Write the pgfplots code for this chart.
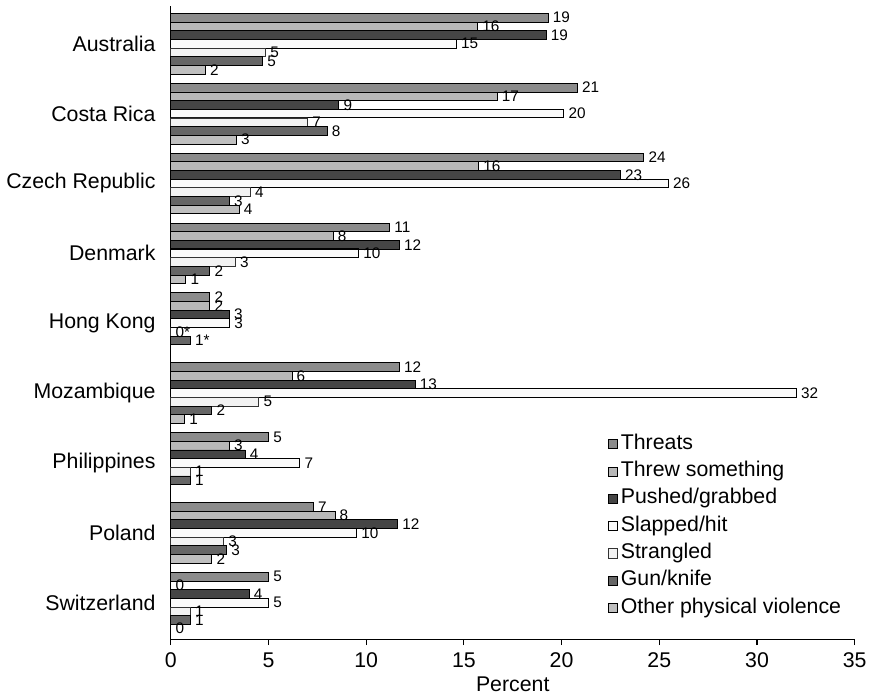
\documentclass[border=0pt]{standalone}
\usepackage{pgfplots}
\pgfplotsset{compat=1.18}
\usepackage{fontspec}
\setmainfont{Liberation Sans}
\definecolor{cA}{gray}{0.55}
\definecolor{cB}{gray}{0.72}
\definecolor{cC}{gray}{0.27}
\definecolor{cD}{gray}{0.98}
\definecolor{cE}{gray}{0.95}
\definecolor{cF}{gray}{0.40}
\definecolor{cG}{gray}{0.75}
\pgfplotsset{sqlegend/.style={legend image code/.code={\draw[##1,line width=0.6pt] (0pt,-3.4pt) rectangle (6.75pt,3.4pt);}}}
\begin{document}
\begin{tikzpicture}
\begin{axis}[name=ax, scale only axis, width=513.75pt, height=475.5pt,
  xbar, bar width=0.124, xmin=0, xmax=35, ymin=-0.52, ymax=8.54,
  axis x line*=bottom, axis y line*=left, axis line style={line width=0.8pt},
  xtick={0,5,...,35}, xtick pos=bottom, tick align=outside, major tick length=4.5pt,
  tick style={black, line width=0.8pt},
  ytick={0,...,8},
  yticklabels={Switzerland,Poland,Philippines,Mozambique,Hong Kong,Denmark,Czech Republic,Costa Rica,Australia},
  ytick style={draw=none},
  tick label style={font=\fontsize{16}{19}\selectfont},
  yticklabel style={inner sep=0pt, xshift=-6.75pt},
  xticklabel style={yshift=-2.5pt},
  /pgf/number format/assume math mode=true,
  xlabel={Percent}, xlabel style={font=\fontsize{16}{19}\selectfont, yshift=0.5pt},
  point meta=explicit symbolic, nodes near coords,
  nodes near coords style={font=\fontsize{11.5}{13}\selectfont, anchor=west, text=black},
  clip=false,
  legend style={at={(0.6395,0.3297)}, anchor=north west, draw=none, fill=none,
    font=\fontsize{16}{19}\selectfont, cells={anchor=west}, inner sep=0pt,
    nodes={inner sep=2pt, text height=12pt, text depth=4.5pt}},
  legend cell align=left,
]
\addplot[fill=cA, draw=black, line width=0.6pt, bar shift=0.372, sqlegend] coordinates
  {(19.3,8) [19] (20.8,7) [21] (24.2,6) [24] (11.2,5) [11] (2.0,4) [2] (11.7,3) [12] (5.0,2) [5] (7.3,1) [7] (5.0,0) [5]};
\addlegendentry{Threats}
\addplot[fill=cB, draw=black, line width=0.6pt, bar shift=0.248, sqlegend] coordinates
  {(15.7,8) [16] (16.7,7) [17] (15.75,6) [16] (8.3,5) [8] (2.0,4) [2] (6.2,3) [6] (3.0,2) [3] (8.4,1) [8] (0,0) [0]};
\addlegendentry{Threw something}
\addplot[fill=cC, draw=black, line width=0.6pt, bar shift=0.124, sqlegend] coordinates
  {(19.2,8) [19] (8.6,7) [9] (23.0,6) [23] (11.7,5) [12] (3.0,4) [3] (12.5,3) [13] (3.8,2) [4] (11.6,1) [12] (4.0,0) [4]};
\addlegendentry{Pushed/grabbed}
\addplot[fill=cD, draw=black, line width=0.8pt, bar shift=0, sqlegend] coordinates
  {(14.6,8) [15] (20.1,7) [20] (25.45,6) [26] (9.6,5) [10] (3.0,4) [3] (32.0,3) [32] (6.6,2) [7] (9.5,1) [10] (5.0,0) [5]};
\addlegendentry{Slapped/hit}
\addplot[fill=cE, draw=black!80, line width=0.6pt, bar shift=-0.124, sqlegend] coordinates
  {(4.85,8) [5] (7.0,7) [7] (4.07,6) [4] (3.3,5) [3] (0,4) [0*] (4.5,3) [5] (1.0,2) [1] (2.7,1) [3] (1.0,0) [1]};
\addlegendentry{Strangled}
\addplot[fill=cF, draw=black, line width=0.6pt, bar shift=-0.248, sqlegend] coordinates
  {(4.7,8) [5] (8.0,7) [8] (3.0,6) [3] (2.0,5) [2] (1.0,4) [1*] (2.1,3) [2] (1.0,2) [1] (2.85,1) [3] (1.0,0) [1]};
\addlegendentry{Gun/knife}
\addplot[fill=cG, draw=black, line width=0.6pt, bar shift=-0.372, sqlegend] coordinates
  {(1.77,8) [2] (3.35,7) [3] (3.5,6) [4] (0.77,5) [1] (0.7,3) [1] (2.1,1) [2] (0,0) [0]};
\addlegendentry{Other physical violence}
\end{axis}
\path (ax.north west) ++(-128.25pt,4.5pt) coordinate (bbA);
\path (ax.south east) ++(11.25pt,-40.5pt) coordinate (bbB);
\end{tikzpicture}
\end{document}
